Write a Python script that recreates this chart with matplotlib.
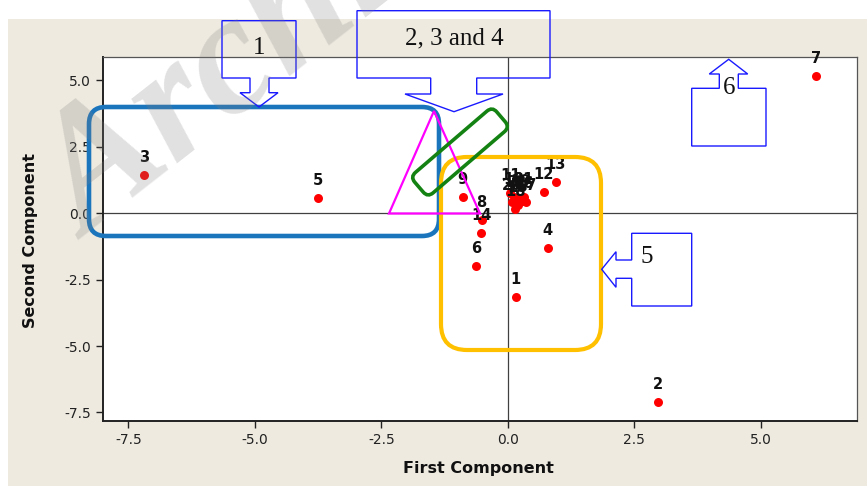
import matplotlib
matplotlib.use("Agg")
import matplotlib.pyplot as plt
from matplotlib.patches import FancyBboxPatch, Polygon, Rectangle
from matplotlib.transforms import Affine2D

# ---- data ----
labels = ["1", "2", "3", "4", "5", "6", "7", "8", "9", "12", "13", "14"]
first = [0.16, 2.96, -7.18, 0.79, -3.75, -0.63, 6.09, -0.52, -0.89, 0.71, 0.95, -0.53]
second = [-3.16, -7.10, 1.43, -1.32, 0.56, -1.99, 5.15, -0.26, 0.60, 0.80, 1.17, -0.74]

cluster_labels = ["10", "11", "15", "16", "17", "18", "19", "20", "21", "22"]
cluster_first = [0.12, 0.05, 0.20, 0.30, 0.36, 0.15, 0.25, 0.08, 0.32, 0.18]
cluster_second = [0.62, 0.75, 0.30, 0.45, 0.40, 0.15, 0.55, 0.40, 0.60, 0.48]

xticks = [-7.5, -5.0, -2.5, 0.0, 2.5, 5.0]
yticks = [-7.5, -5.0, -2.5, 0.0, 2.5, 5.0]

W, H = 867, 486
fig = plt.figure(figsize=(W / 100, H / 100), dpi=100)
fig.patch.set_facecolor("white")
pix = Affine2D().scale(1 / W, -1 / H).translate(0, 1) + fig.transFigure

# beige panel
fig.patches.append(Rectangle((8, 19), W - 8, H - 19, transform=pix,
                             facecolor="#eeeae0", edgecolor="none", zorder=-10))

ax = fig.add_axes([103 / W, 1 - 421 / H, (857 - 103) / W, (421 - 57) / H])
ax.set_facecolor("white")
ax.set_xlim(-8.0, 6.9)
ax.set_ylim(-7.82, 5.87)
ax.axhline(0, color="#404040", lw=0.9, zorder=1)
ax.axvline(0, color="#404040", lw=0.9, zorder=1)

ax.scatter(first, second, s=42, color="#ff0000", zorder=3, linewidths=0)
ax.scatter(cluster_first, cluster_second, s=42, color="#ff0000", zorder=3, linewidths=0)
for lab, x, y in list(zip(labels, first, second)) + list(zip(cluster_labels, cluster_first, cluster_second)):
    ax.annotate(lab, (x, y), xytext=(0, 12.5), textcoords="offset points",
                ha="center", va="center", fontsize=10.5, fontweight="bold",
                color="#111111", zorder=4)

ax.set_xticks(xticks)
ax.set_yticks(yticks)
ax.set_xticklabels([f"{t:.1f}" for t in xticks])
ax.set_yticklabels([f"{t:.1f}" for t in yticks])
ax.tick_params(direction="out", length=5, width=1, labelsize=10, colors="#222222")
for s in ["top", "right"]:
    ax.spines[s].set_linewidth(0.9)
    ax.spines[s].set_color("#555555")
for s in ["left", "bottom"]:
    ax.spines[s].set_linewidth(1.4)
    ax.spines[s].set_color("#222222")

fig.text(478 / W, 1 - 468 / H, "First Component", ha="center", va="center",
         fontsize=11.5, fontweight="bold", color="#111111")
fig.text(30 / W, 1 - 240 / H, "Second Component", ha="center", va="center",
         rotation=90, fontsize=11.5, fontweight="bold", color="#111111")

# ---- drawn annotations (pixel coordinates) ----
def rbox(x0, y0, x1, y1, r, color, lw):
    p = FancyBboxPatch((x0, y0), x1 - x0, y1 - y0,
                       boxstyle=f"round,pad=0,rounding_size={r}",
                       transform=pix, fill=False, edgecolor=color, lw=lw, zorder=5)
    fig.patches.append(p)

rbox(89, 107, 439, 236, 17, "#1b75bc", 3.3)
rbox(441, 157, 601, 350, 26, "#ffc000", 3.0)

fig.patches.append(Polygon([(389, 213.5), (434, 111), (480, 213.5)], closed=True,
                           fill=False, edgecolor="#ff00ff", lw=1.6,
                           transform=pix, zorder=5))

L, S = 108, 27
green = FancyBboxPatch((-L / 2, -S / 2), L, S, boxstyle="round,pad=0,rounding_size=7",
                       fill=False, edgecolor="#138213", lw=2.6, zorder=5,
                       transform=Affine2D().rotate_deg(-40.6).translate(460, 152) + pix)
fig.patches.append(green)

callouts = [
    ([(222, 20.7), (296, 20.7), (296, 78), (269, 78), (269, 92.7), (278, 92.7),
      (259, 107), (240, 92.7), (250, 92.7), (250, 78), (222, 78)], "1", (259, 48)),
    ([(357, 10.7), (550, 10.7), (550, 78), (476.7, 78), (476.7, 94), (503, 94),
      (454, 111.7), (405, 94), (430.7, 94), (430.7, 78), (357, 78)], "2, 3 and 4", (454, 38)),
    ([(691.7, 146), (766, 146), (766, 88.3), (738.3, 88.3), (738.3, 74), (747.7, 74),
      (728.7, 59.3), (709.3, 74), (719.3, 74), (719.3, 88.3), (691.7, 88.3)], "6", (728.7, 88)),
    ([(691.7, 233.3), (691.7, 306), (631.7, 306), (631.7, 278.3), (616, 278.3),
      (616, 287.3), (601.7, 269.3), (616, 251.7), (616, 260), (631.7, 260),
      (631.7, 233.3)], "5", (647, 257)),
]
for pts, txt, (tx, ty) in callouts:
    fig.patches.append(Polygon(pts, closed=True, fill=False, edgecolor="#1a1aff",
                               lw=1.0, transform=pix, zorder=6))
    fig.text(tx, ty, txt, transform=pix, ha="center", va="center",
             fontsize=18, family="Liberation Serif", color="#111111", zorder=7)

# watermark
fig.text(88, 240, "Archive", transform=pix, ha="left", va="baseline",
         rotation=38, rotation_mode="anchor", fontsize=123,
         family="Liberation Serif", fontweight="bold", fontstyle="italic",
         color="#808080", alpha=0.24, zorder=20)

fig.savefig("out.png", dpi=100, facecolor=fig.get_facecolor())
